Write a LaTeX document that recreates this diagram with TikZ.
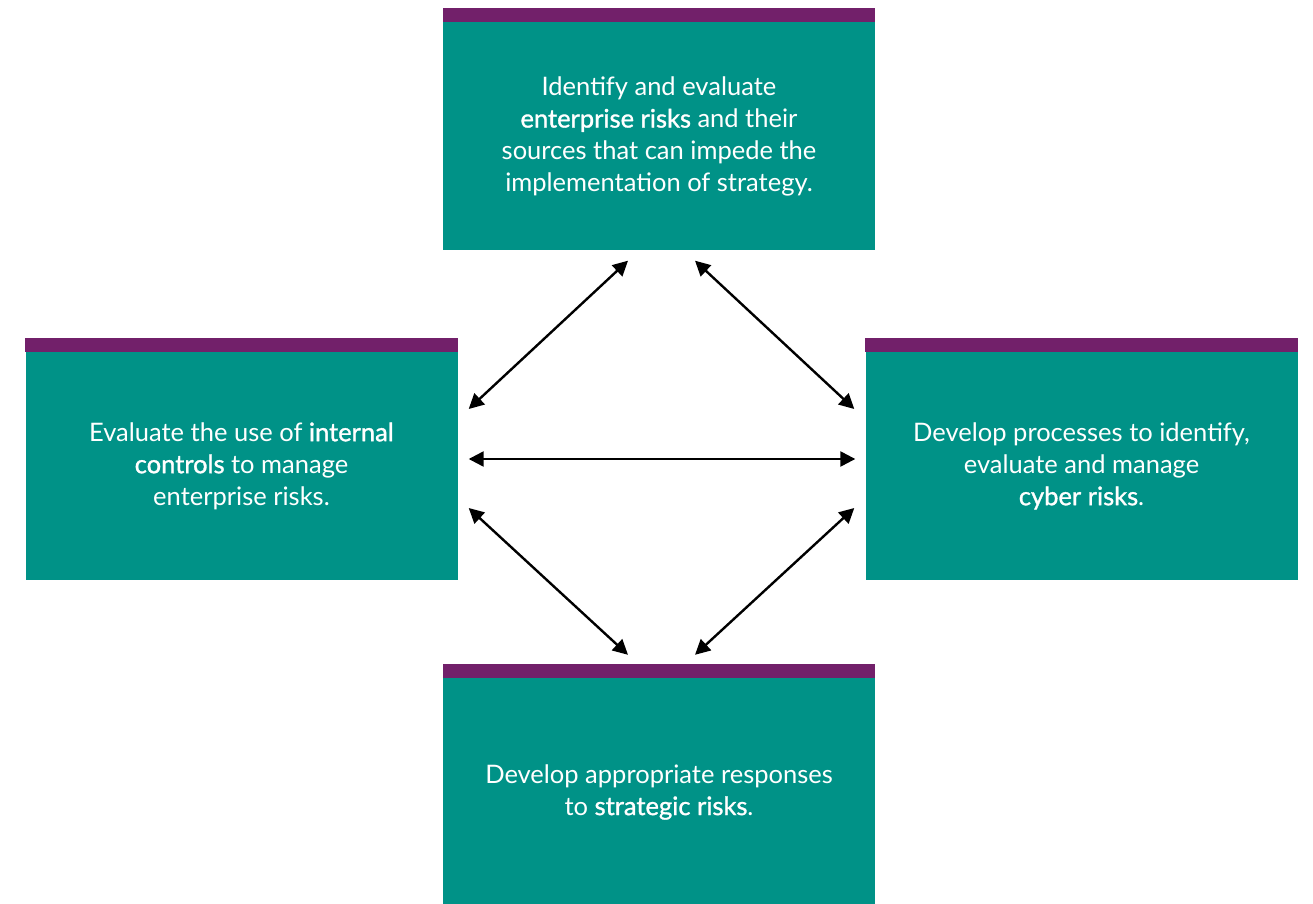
\documentclass[tikz,border=0pt]{standalone}
\usepackage{fontspec}
\setmainfont{Lato}[BoldFont=Lato, BoldFeatures={FakeBold=1.2}]
\usepackage{tikz}
\definecolor{white}{rgb}{1.0, 1.0, 1.0}
\definecolor{black}{rgb}{0.0, 0.0, 0.0}
\definecolor{teal}{RGB}{0,146,135}
\definecolor{plum}{RGB}{114,32,106}
\usetikzlibrary{arrows.meta}
\pgfdeclarelayer{edgelayer}
\pgfdeclarelayer{nodelayer}
\pgfsetlayers{edgelayer,nodelayer,main}
\tikzstyle{box}=[rectangle,fill=teal,text=white,minimum width=432,minimum height=228,inner sep=0,align=center,font=\fontsize{25.5}{32}\selectfont]
\tikzstyle{link}=[black,line width=2.4,{Triangle[length=15,width=15]}-{Triangle[length=15,width=15]}]

\begin{document}
\begin{tikzpicture}[x=1pt,y=1pt]
        \useasboundingbox (0,0) rectangle (1313,903);
        \begin{pgfonlayer}{nodelayer}
            \node [style = box] (identify) at (659, 766.5) {Identify and evaluate\\\textbf{enterprise risks} and their\\sources that can impede the\\implementation of strategy.};
            \node [style = box] (controls) at (241.5, 437) {Evaluate the use of \textbf{internal}\\\textbf{controls} to manage\\enterprise risks.};
            \node [style = box] (cyber) at (1081.5, 437) {Develop processes to identify,\\evaluate and manage\\\textbf{cyber risks}.};
            \node [style = box] (strategic) at (659, 111) {Develop appropriate responses\\to \textbf{strategic risks}.};

            \fill [plum] (identify.north west) rectangle ([yshift=14]identify.north east);
            \fill [plum] (controls.north west) rectangle ([yshift=14]controls.north east);
            \fill [plum] (cyber.north west) rectangle ([yshift=14]cyber.north east);
            \fill [plum] (strategic.north west) rectangle ([yshift=14]strategic.north east);
        \end{pgfonlayer}

        \coordinate (idl) at ([xshift=-31,yshift=-10]identify.south);
        \coordinate (idr) at ([xshift=36,yshift=-10]identify.south);
        \coordinate (cot) at ([xshift=11,yshift=57]controls.east);
        \coordinate (com) at ([xshift=11,yshift=7]controls.east);
        \coordinate (cob) at ([xshift=11,yshift=-42]controls.east);
        \coordinate (cyt) at ([xshift=-11,yshift=57]cyber.west);
        \coordinate (cym) at ([xshift=-10,yshift=7]cyber.west);
        \coordinate (cyb) at ([xshift=-11,yshift=-42]cyber.west);
        \coordinate (stl) at ([xshift=-31,yshift=23]strategic.north);
        \coordinate (str) at ([xshift=36,yshift=23]strategic.north);

        \begin{pgfonlayer}{edgelayer}
            \draw [style = link] (idl) to (cot);
            \draw [style = link] (idr) to (cyt);
            \draw [style = link] (com) to (cym);
            \draw [style = link] (cob) to (stl);
            \draw [style = link] (cyb) to (str);
        \end{pgfonlayer}
    \end{tikzpicture}
\end{document}
